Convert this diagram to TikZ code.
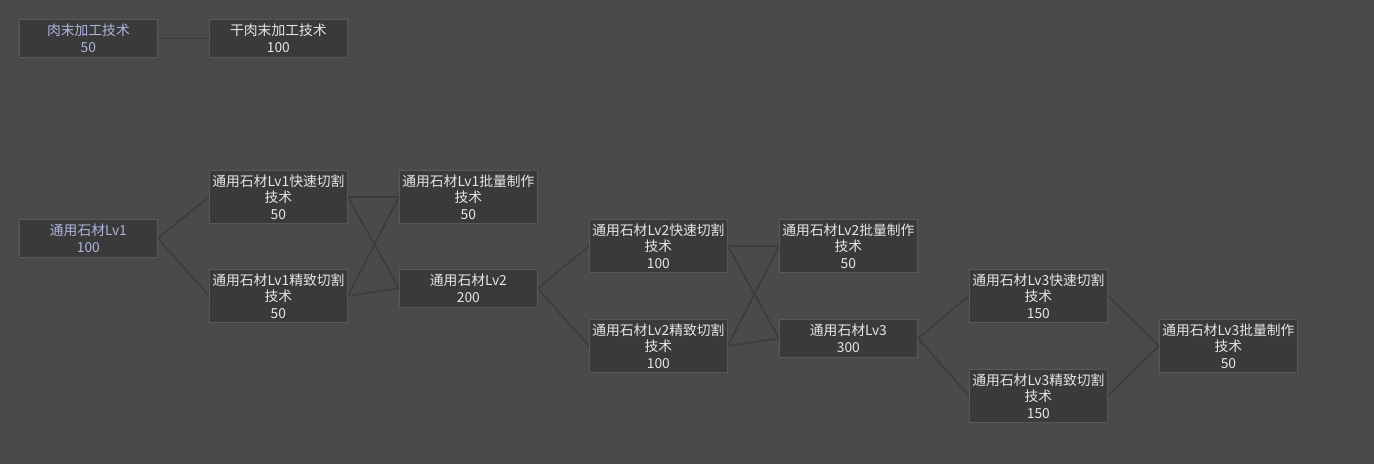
\documentclass[tikz,border=0pt]{standalone}
\usepackage{fontspec}
\usetikzlibrary{backgrounds}
\setmainfont{Noto Sans CJK SC}
\begin{document}
\definecolor{bg}{HTML}{4A4A4C}
\definecolor{boxf}{HTML}{3A3A3A}
\definecolor{boxd}{HTML}{585858}
\definecolor{edge}{HTML}{3C3C3C}
\definecolor{blu}{HTML}{AEB4E0}
\definecolor{wht}{HTML}{E6E6E6}
\begin{tikzpicture}[x=1pt,y=-1pt,
 box/.style={draw=boxd,fill=boxf,line width=0.8pt,anchor=north west,minimum width=138pt,text width=138pt,align=center,inner sep=0pt,text=wht,font=\fontsize{13.8}{16.5}\selectfont},
 two/.style={box,minimum height=38pt},
 three/.style={box,minimum height=53pt},
 lv/.style={text=blu},
 ln/.style={draw=edge,line width=1.6pt}]
\node[two,lv] (A) at (19,19) {肉末加工技术\\50};
\node[two] (B) at (209,19) {干肉末加工技术\\100};
\node[two,lv] (C) at (19,219) {通用石材Lv1\\100};
\node[three] (D) at (209,170) {通用石材Lv1快速切割\\技术\\50};
\node[three] (E) at (209,269) {通用石材Lv1精致切割\\技术\\50};
\node[three] (F) at (399,170) {通用石材Lv1批量制作\\技术\\50};
\node[two] (G) at (399,269) {通用石材Lv2\\200};
\node[three] (H) at (589,219) {通用石材Lv2快速切割\\技术\\100};
\node[three] (I) at (589,319) {通用石材Lv2精致切割\\技术\\100};
\node[three] (J) at (779,219) {通用石材Lv2批量制作\\技术\\50};
\node[two] (K) at (779,319) {通用石材Lv3\\300};
\node[three] (L) at (969,269) {通用石材Lv3快速切割\\技术\\150};
\node[three] (M) at (969,369) {通用石材Lv3精致切割\\技术\\150};
\node[three] (N) at (1159,319) {通用石材Lv3批量制作\\技术\\50};
\begin{scope}[on background layer]
\fill[bg] (0,0) rectangle (1374,464);
\foreach \a/\b in {A/B,C/D,C/E,D/F,D/G,E/F,E/G,G/H,G/I,H/J,H/K,I/J,I/K,K/L,K/M,L/N,M/N}
  \draw[ln] (\a.east) -- (\b.west);
\end{scope}
\useasboundingbox (0,0) rectangle (1374,464);
\end{tikzpicture}
\end{document}
